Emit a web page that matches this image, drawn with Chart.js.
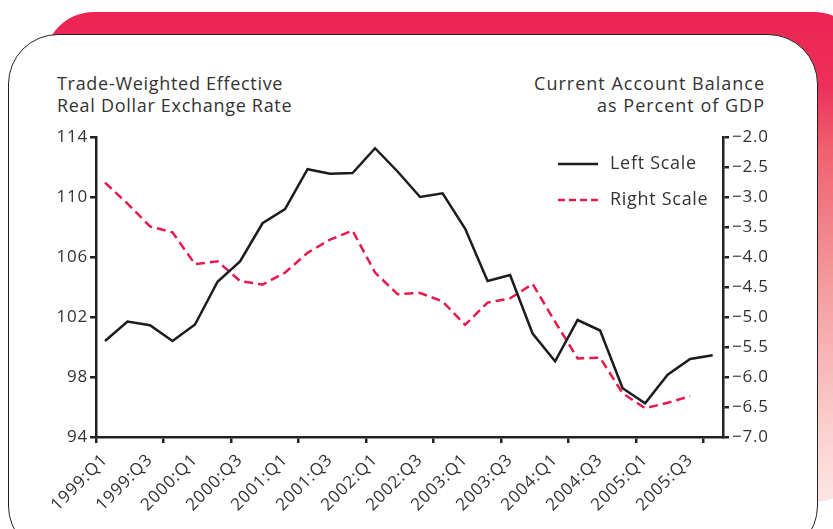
<!DOCTYPE html>
<html>
<head>
<meta charset="utf-8">
<script src="https://cdn.jsdelivr.net/npm/chart.js@4/dist/chart.umd.min.js"></script>
<style>
  html, body { margin: 0; padding: 0; background: #fff; }
  body { width: 833px; height: 529px; position: relative; overflow: hidden; font-family: "Open Sans", sans-serif; }
  .band {
    position: absolute; left: 44px; top: 12px; width: 820px; height: 490px;
    border-radius: 50px;
    background: linear-gradient(to bottom, #ec2453 0%, #ed3059 15%, #f0606f 28%, #f49a9c 55%, #fad0cd 85%, #fde6e4 100%);
  }
  .panel {
    position: absolute; left: 8px; top: 34px; width: 808px; height: 520px;
    border: 1.5px solid #222; border-radius: 50px; background: #fff;
  }
  .title { position: absolute; top: 72px; font-size: 18px; line-height: 22px; letter-spacing: 0.7px; color: #333; }
  .title.left { left: 57px; }
  .title.right { right: 68px; text-align: right; letter-spacing: 1px; }
  canvas { position: absolute; left: 0; top: 0; }
</style>
</head>
<body>
<div class="band"></div>
<div class="panel"></div>
<div class="title left">Trade-Weighted Effective<br>Real Dollar Exchange Rate</div>
<div class="title right">Current Account Balance<br>as Percent of GDP</div>
<canvas id="chart" width="833" height="529"></canvas>
<script>
// quarters 1999:Q1 .. 2005:Q4
const quarters = [
  '1999:Q1', '1999:Q2', '1999:Q3', '1999:Q4',
  '2000:Q1', '2000:Q2', '2000:Q3', '2000:Q4',
  '2001:Q1', '2001:Q2', '2001:Q3', '2001:Q4',
  '2002:Q1', '2002:Q2', '2002:Q3', '2002:Q4',
  '2003:Q1', '2003:Q2', '2003:Q3', '2003:Q4',
  '2004:Q1', '2004:Q2', '2004:Q3', '2004:Q4',
  '2005:Q1', '2005:Q2', '2005:Q3', '2005:Q4'
];

// exchange rate index (left scale)
const exchangeRate = [
  100.4, 101.7, 101.45, 100.4, 101.5, 104.35, 105.7, 108.25,
  109.2, 111.85, 111.55, 111.6, 113.25, 111.7, 110.0, 110.25,
  107.9, 104.4, 104.8, 100.9, 99.05, 101.8, 101.1, 97.25,
  96.25, 98.15, 99.2, 99.45
];

// current account balance, % of GDP (right scale)
const currentAccount = [
  -2.76, -3.11, -3.49, -3.59, -4.12, -4.07, -4.40, -4.46,
  -4.26, -3.93, -3.71, -3.56, -4.26, -4.62, -4.60, -4.74,
  -5.13, -4.76, -4.69, -4.45, -5.08, -5.69, -5.68, -6.27,
  -6.52, -6.43, -6.32
];

const leftTicks = [94, 98, 102, 106, 110, 114];
const rightTicks = [-7.0, -6.5, -6.0, -5.5, -5.0, -4.5, -4.0, -3.5, -3.0, -2.5, -2.0];

// axis tick marks sit between the quarters, every third one
const tickMarks = [-0.4, 2.6, 5.6, 8.6, 11.6, 14.6, 17.6, 20.6, 23.6, 26.6];
const labelIdx = quarters.map((q, i) => i).filter(i => i % 2 === 0);

const axisColor = '#222';
const textColor = '#333';
const fontFamily = '"Open Sans", sans-serif';

// wider lettering, closer to the original typeface
const spacing = {
  id: 'spacing',
  beforeLayout(chart) { chart.ctx.letterSpacing = '0.8px'; },
  beforeDraw(chart) { chart.ctx.letterSpacing = '0.8px'; }
};

const insideLegend = {
  id: 'insideLegend',
  afterDatasetsDraw(chart) {
    const { ctx, chartArea } = chart;
    const x0 = chartArea.right - 165;
    let y = chartArea.top + 27;
    ctx.save();
    chart.data.datasets.forEach(ds => {
      ctx.beginPath();
      ctx.strokeStyle = ds.borderColor;
      ctx.lineWidth = 2.5;
      ctx.setLineDash(ds.borderDash ? [7, 4] : []);
      ctx.moveTo(x0, y);
      ctx.lineTo(x0 + 40, y);
      ctx.stroke();
      ctx.setLineDash([]);
      ctx.fillStyle = textColor;
      ctx.font = '18px ' + fontFamily;
      ctx.letterSpacing = '0.7px';
      ctx.textBaseline = 'middle';
      ctx.fillText(ds.label, x0 + 52, y);
      y += 36;
    });
    ctx.restore();
  }
};

new Chart(document.getElementById('chart'), {
  type: 'line',
  data: {
    datasets: [
      {
        label: 'Left Scale',
        data: exchangeRate.map((v, i) => ({ x: i, y: v })),
        yAxisID: 'y',
        borderColor: '#1c1c1c',
        borderWidth: 2.5,
        pointRadius: 0,
        tension: 0
      },
      {
        label: 'Right Scale',
        data: currentAccount.map((v, i) => ({ x: i, y: v })),
        yAxisID: 'y2',
        borderColor: '#e8194d',
        borderWidth: 2.5,
        borderDash: [9, 5],
        pointRadius: 0,
        tension: 0
      }
    ]
  },
  options: {
    responsive: false,
    animation: false,
    devicePixelRatio: 1,
    layout: { padding: { top: 137, left: 0, right: 0, bottom: 0 } },
    plugins: { legend: { display: false }, tooltip: { enabled: false } },
    scales: {
      x: {
        type: 'linear',
        position: 'bottom',
        min: -0.4,
        max: 27.46,
        afterBuildTicks: scale => {
          scale.ticks = tickMarks.concat(labelIdx).sort((a, b) => a - b).map(v => ({ value: v }));
        },
        afterFit: scale => { scale.height = 92; },
        ticks: {
          autoSkip: false,
          minRotation: 45,
          maxRotation: 45,
          padding: 7,
          color: textColor,
          font: { family: fontFamily, size: 17 },
          callback: v => Number.isInteger(v) ? quarters[v] : ''
        },
        grid: {
          drawOnChartArea: false,
          tickLength: 6,
          lineWidth: 2.5,
          color: c => (c.tick && !Number.isInteger(c.tick.value)) ? axisColor : 'rgba(0,0,0,0)'
        },
        border: { display: true, color: axisColor, width: 2.5 }
      },
      y: {
        type: 'linear',
        position: 'left',
        min: 94,
        max: 114,
        afterBuildTicks: scale => { scale.ticks = leftTicks.map(v => ({ value: v })); },
        afterFit: scale => { scale.width = 96; },
        ticks: {
          padding: 2,
          color: textColor,
          font: { family: fontFamily, size: 17 }
        },
        grid: { drawOnChartArea: false, tickLength: 6, lineWidth: 2.5, color: axisColor },
        border: { display: true, color: axisColor, width: 2.5 }
      },
      y2: {
        type: 'linear',
        position: 'right',
        min: -7,
        max: -2,
        afterBuildTicks: scale => { scale.ticks = rightTicks.map(v => ({ value: v })); },
        afterFit: scale => { scale.width = 110; },
        ticks: {
          padding: 3,
          color: textColor,
          font: { family: fontFamily, size: 17 },
          callback: v => '\u2212' + Math.abs(v).toFixed(1)
        },
        grid: { drawOnChartArea: false, tickLength: 6, lineWidth: 2.5, color: axisColor },
        border: { display: true, color: axisColor, width: 2.5 }
      }
    }
  },
  plugins: [spacing, insideLegend]
});
</script>
</body>
</html>
